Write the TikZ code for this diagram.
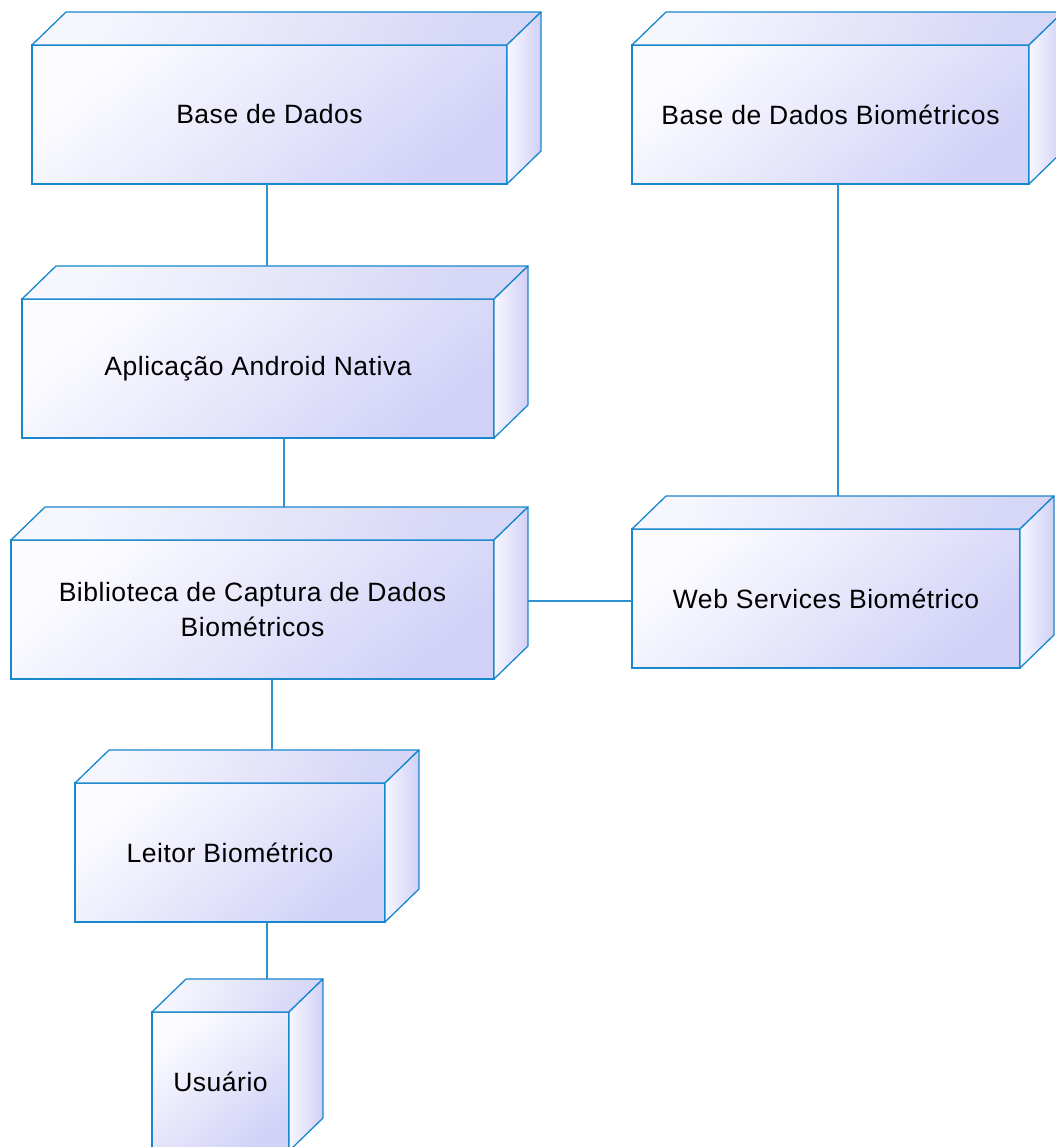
\documentclass[tikz,border=0pt]{standalone}
\usepackage{fontspec}
\newfontfamily\boxfont{Liberation Sans}[LetterSpace=2]
\usetikzlibrary{calc}

\definecolor{edgeblue}{RGB}{25,135,205}
\definecolor{linkblue}{RGB}{45,145,210}
\definecolor{facelight}{RGB}{252,252,255}
\definecolor{facedark}{RGB}{210,210,248}
\definecolor{toplight}{RGB}{246,246,254}
\definecolor{topdark}{RGB}{214,214,247}
\definecolor{sidelight}{RGB}{247,247,255}
\definecolor{sidedark}{RGB}{208,208,246}

\tikzset{
  nodebox/.style={draw=edgeblue, line width=1.3pt, outer sep=0pt, inner sep=0pt,
    top color=facelight, bottom color=facedark, shading angle=40,
    align=center, font=\boxfont\fontsize{26.5}{35}\selectfont, text=black},
  topface/.style={draw=edgeblue, line width=1.3pt, line join=round,
    top color=toplight, bottom color=topdark, shading angle=60},
  sideface/.style={draw=edgeblue, line width=1.3pt, line join=round,
    left color=sidelight, right color=sidedark},
  link/.style={draw=linkblue, line width=1.3pt}
}

% A 3-D deployment node: name, front face x1, y1, x2, y2, label
\newcommand\deplnode[6]{%
  \node[nodebox, minimum width={(#4-#2)*1pt}, minimum height={(#5-#3)*1pt}]
    (#1) at ({(#2+#4)/2},{(#3+#5)/2}) {#6};
  \draw[topface] (#1.north west) -- ++(34,-33) -- ($(#1.north east)+(34,-33)$)
    -- (#1.north east) -- cycle;
  \draw[sideface] (#1.north east) -- ++(34,-33) -- ($(#1.south east)+(34,-33)$)
    -- (#1.south east) -- cycle;
  \coordinate (#1-top) at ($(#1.north west)+(34,-33)$);
  \coordinate (#1-right) at ($(#1.north east)+(34,-33)$);
}

\begin{document}
\begin{tikzpicture}[x=1pt, y=-1pt]
  \useasboundingbox (0,0) rectangle (1055,1147);
  \fill[white] (0,0) rectangle (1055,1147);

  % nodes
  \deplnode{bd}{32}{45}{507}{184}{Base de Dados}
  \deplnode{bdb}{632}{45}{1029}{184}{Base de Dados Biométricos}
  \deplnode{app}{22}{299}{494}{438}{Aplicação Android Nativa}
  \deplnode{bib}{11}{540}{494}{679}{Biblioteca de Captura de Dados\\Biométricos}
  \deplnode{ws}{632}{529}{1020}{668}{Web Services Biométrico}
  \deplnode{lei}{75}{783}{385}{922}{Leitor Biométrico}
  \deplnode{usu}{152}{1012}{289}{1151}{Usuário}

  % connectors
  \coordinate (j1) at ([xshift=-2.5pt]bd.south);
  \draw[link] (j1) -- (j1 |- app-top);
  \coordinate (j2) at ([xshift=26pt]app.south);
  \draw[link] (j2) -- (j2 |- bib-top);
  \coordinate (j3) at ([xshift=7.5pt]bdb.south);
  \draw[link] (j3) -- (j3 |- ws-top);
  \coordinate (j4) at ([yshift=-2.5pt]ws.west);
  \draw[link] (j4) -- (j4 -| bib-right);
  \coordinate (j5) at ([xshift=19.5pt]bib.south);
  \draw[link] (j5) -- (j5 |- lei-top);
  \coordinate (j6) at ([xshift=37pt]lei.south);
  \draw[link] (j6) -- (j6 |- usu-top);
\end{tikzpicture}
\end{document}
